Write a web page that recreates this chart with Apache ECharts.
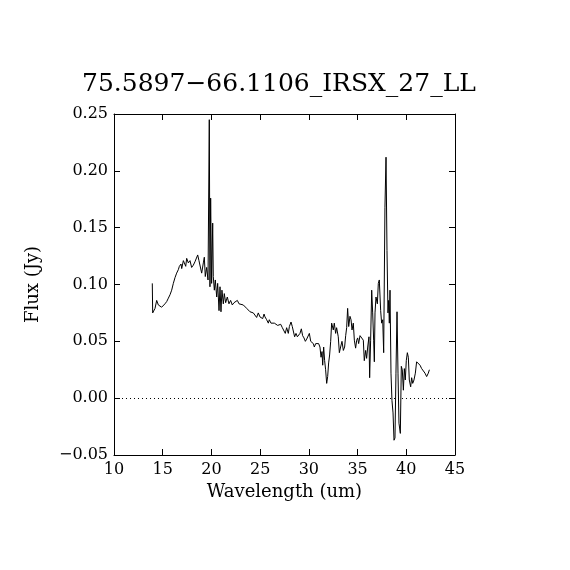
<!DOCTYPE html>
<html lang="en">
<head>
    <meta charset="UTF-8">
    <title>IRS spectrum</title>
    <script src="https://cdn.jsdelivr.net/npm/echarts@6/dist/echarts.min.js"></script>
    <style>
        html, body { margin: 0; padding: 0; background: #fff; }
        #chart { width: 570px; height: 570px; }
    </style>
</head>
<body>
<div id="chart"></div>
<script type="text/javascript">
    // wavelength (um) and flux (Jy)
    var wave = [
        13.93, 13.97, 14.21, 14.38, 14.55, 14.89, 15.23, 15.41, 15.58, 15.75,
        15.92, 16.09, 16.26, 16.43, 16.60, 16.71, 16.88, 16.95, 17.12, 17.22,
        17.36, 17.46, 17.63, 17.80, 17.97, 18.14, 18.31, 18.48, 18.59, 18.72,
        19.00, 19.17, 19.27, 19.37, 19.51, 19.65, 19.78, 19.85, 19.92, 20.02,
        20.13, 20.19, 20.30, 20.40, 20.54, 20.64, 20.78, 20.88, 20.98, 21.08,
        21.22, 21.32, 21.46, 21.63, 21.80, 21.97, 22.14, 22.32, 22.49, 22.66,
        22.83, 23.00, 23.27, 23.62, 23.96, 24.13, 24.30, 24.47, 24.64, 24.81,
        24.98, 25.16, 25.26, 25.40, 25.50, 25.67, 25.84, 25.94, 26.11, 26.29,
        26.46, 26.63, 26.80, 26.97, 27.11, 27.28, 27.45, 27.58, 27.72, 27.89,
        28.00, 28.17, 28.30, 28.41, 28.54, 28.68, 28.82, 28.95, 29.09, 29.23,
        29.36, 29.50, 29.64, 29.78, 29.95, 30.05, 30.19, 30.32, 30.46, 30.56,
        30.70, 30.87, 31.00, 31.14, 31.25, 31.35, 31.42, 31.52, 31.62, 31.72,
        31.83, 31.93, 32.03, 32.13, 32.24, 32.34, 32.51, 32.61, 32.75, 32.85,
        33.02, 33.13, 33.26, 33.40, 33.54, 33.67, 33.78, 33.88, 33.98, 34.09,
        34.22, 34.33, 34.43, 34.56, 34.67, 34.80, 34.91, 35.01, 35.11, 35.25,
        35.42, 35.59, 35.69, 35.83, 35.93, 36.04, 36.17, 36.24, 36.34, 36.45,
        36.55, 36.65, 36.72, 36.79, 36.89, 37.03, 37.13, 37.23, 37.37, 37.47,
        37.58, 37.68, 37.81, 37.92, 38.02, 38.12, 38.19, 38.26, 38.33, 38.43,
        38.53, 38.64, 38.74, 38.84, 38.94, 39.05, 39.15, 39.25, 39.39, 39.49,
        39.59, 39.70, 39.80, 39.90, 40.00, 40.11, 40.21, 40.31, 40.45, 40.55,
        40.66, 40.79, 40.93, 41.06, 41.24, 41.41, 41.58, 41.75, 41.92, 42.09,
        42.26, 42.37
    ];
    var flux = [
        0.101, 0.075, 0.079, 0.086, 0.082, 0.080, 0.083, 0.085, 0.088, 0.091,
        0.095, 0.101, 0.106, 0.110, 0.113, 0.116, 0.118, 0.114, 0.121, 0.119,
        0.116, 0.123, 0.119, 0.121, 0.115, 0.117, 0.120, 0.119, 0.126, 0.121,
        0.110, 0.119, 0.124, 0.107, 0.115, 0.104, 0.245, 0.098, 0.176, 0.101,
        0.154, 0.107, 0.095, 0.104, 0.089, 0.101, 0.077, 0.098, 0.076, 0.095,
        0.083, 0.092, 0.084, 0.089, 0.083, 0.086, 0.082, 0.084, 0.083, 0.086,
        0.083, 0.084, 0.082, 0.079, 0.076, 0.077, 0.075, 0.076, 0.071, 0.075,
        0.0715, 0.073, 0.070, 0.074, 0.0715, 0.069, 0.066, 0.069, 0.066, 0.067,
        0.066, 0.066, 0.064, 0.063, 0.065, 0.062, 0.063, 0.057, 0.062, 0.057,
        0.063, 0.067, 0.063, 0.064, 0.054, 0.057, 0.054, 0.053, 0.057, 0.061,
        0.055, 0.053, 0.050, 0.052, 0.053, 0.057, 0.050, 0.050, 0.048, 0.045,
        0.048, 0.047, 0.048, 0.045, 0.036, 0.041, 0.029, 0.045, 0.033, 0.025,
        0.013, 0.019, 0.031, 0.038, 0.050, 0.066, 0.060, 0.066, 0.057, 0.062,
        0.054, 0.040, 0.045, 0.050, 0.042, 0.045, 0.055, 0.062, 0.079, 0.063,
        0.072, 0.069, 0.060, 0.066, 0.051, 0.044, 0.051, 0.053, 0.048, 0.055,
        0.055, 0.051, 0.033, 0.042, 0.035, 0.045, 0.054, 0.018, 0.051, 0.095,
        0.075, 0.051, 0.032, 0.075, 0.089, 0.083, 0.101, 0.104, 0.077, 0.066,
        0.069, 0.040, 0.168, 0.212, 0.130, 0.075, 0.086, 0.066, 0.095, 0.022,
        -0.002, -0.013, -0.037, -0.035, 0.022, 0.076, 0.022, -0.022, -0.031, 0.028,
        0.025, 0.007, 0.026, 0.016, 0.033, 0.040, 0.036, 0.016, 0.010, 0.018,
        0.013, 0.016, 0.022, 0.032, 0.033, 0.029, 0.026, 0.025, 0.022, 0.019,
        0.022, 0.025
    ];
    var xTicks = [10, 15, 20, 25, 30, 35, 40, 45];
    var yTicks = [-0.05, 0.00, 0.05, 0.10, 0.15, 0.20, 0.25];

    var font = 'DejaVu Serif';
    function minus(s) { return String(s).replace('-', '\u2212'); }

    var pts = [];
    for (var i = 0; i < wave.length; i++) {
        pts.push([wave[i], flux[i]]);
    }

    var tick = { show: true, inside: true, length: 6, lineStyle: { color: '#000', width: 1 } };
    var line = { show: true, onZero: false, lineStyle: { color: '#000', width: 1 } };

    var mychart = echarts.init(document.getElementById('chart'));
    mychart.setOption({
        animation: false,
        backgroundColor: '#fff',
        title: {
            text: minus('75.5897-66.1106_IRSX_27_LL'),
            left: 77,
            top: 67,
            textStyle: { fontFamily: font, fontWeight: 'normal', fontSize: 25, color: '#000' }
        },
        grid: { left: 114, right: 115, top: 114, bottom: 115 },
        xAxis: [{
            type: 'value',
            min: xTicks[0],
            max: xTicks[xTicks.length - 1],
            interval: 5,
            position: 'bottom',
            name: 'Wavelength (um)',
            nameLocation: 'middle',
            nameGap: 28,
            nameTextStyle: { fontFamily: font, fontSize: 18, color: '#000' },
            axisLine: line,
            axisTick: tick,
            splitLine: { show: false },
            axisLabel: { fontFamily: font, fontSize: 16, color: '#000', margin: 7 }
        }, {
            type: 'value',
            min: xTicks[0],
            max: xTicks[xTicks.length - 1],
            interval: 5,
            position: 'top',
            axisLine: line,
            axisTick: tick,
            splitLine: { show: false },
            axisLabel: { show: false }
        }],
        yAxis: [{
            type: 'value',
            min: yTicks[0],
            max: yTicks[yTicks.length - 1],
            interval: 0.05,
            position: 'left',
            name: 'Flux (Jy)',
            nameLocation: 'middle',
            nameGap: 72,
            nameTextStyle: { fontFamily: font, fontSize: 18, color: '#000' },
            axisLine: line,
            axisTick: tick,
            splitLine: { show: false },
            axisLabel: {
                fontFamily: font, fontSize: 16, color: '#000', margin: 6,
                formatter: function (v) { return minus(v.toFixed(2)); }
            }
        }, {
            type: 'value',
            min: yTicks[0],
            max: yTicks[yTicks.length - 1],
            interval: 0.05,
            position: 'right',
            axisLine: line,
            axisTick: tick,
            splitLine: { show: false },
            axisLabel: { show: false }
        }],
        series: [{
            type: 'line',
            data: pts,
            showSymbol: false,
            symbol: 'none',
            lineStyle: { color: '#000', width: 1 },
            markLine: {
                silent: true,
                symbol: 'none',
                label: { show: false },
                lineStyle: { color: '#000', width: 1, type: [1, 3] },
                data: [{ yAxis: 0 }]
            }
        }]
    });
</script>
</body>
</html>
